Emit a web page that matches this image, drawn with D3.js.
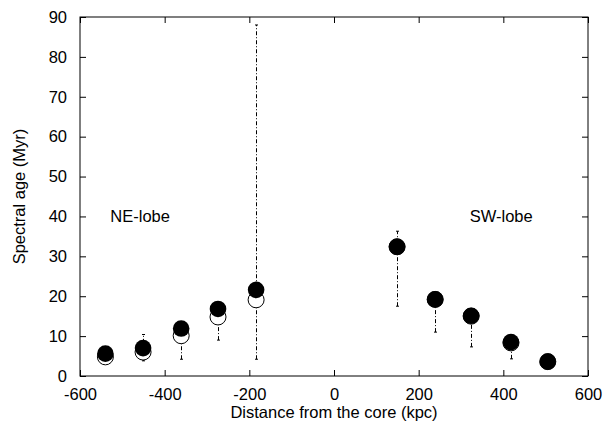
<!DOCTYPE html>
<html><head><meta charset="utf-8">
<script src="https://cdn.jsdelivr.net/npm/d3@7"></script>
<style>body{margin:0;background:#fff}svg{display:block}text{font-family:"Liberation Sans",Arial,sans-serif;fill:#000}</style>
</head><body><svg id="c" width="613" height="426"></svg>
<script>
// Distances (kpc)
const distances = [-540, -451, -361, -274, -184, 149, 239, 324, 418, 505];
// Filled-circle spectral ages (Myr)
const agesFilled = [5.6, 7.0, 11.9, 16.8, 21.6, 32.4, 19.2, 15.1, 8.5, 3.6];
// Open-circle spectral ages (Myr)
const agesOpen = [4.8, 6.0, 10.1, 14.8, 19.1, 32.4, 19.2, 15.0, 8.3, 3.6];
// Error-bar low / high (Myr)
const errLow = [4.7, 3.8, 4.2, 9.0, 4.2, 17.5, 11.0, 7.3, 4.3, 3.4];
const errHigh = [5.6, 10.4, 12.0, 17.0, 88.0, 36.3, 19.3, 15.2, 8.5, 3.8];
const xTicks = [-600, -400, -200, 0, 200, 400, 600];
const yTicks = [0, 10, 20, 30, 40, 50, 60, 70, 80, 90];
const annotations = [{label: "NE-lobe", x: -458, y: 40}, {label: "SW-lobe", x: 395, y: 40}];

const svg = d3.select("#c");
const L = 80, R = 588, T = 17, B = 376;
const x = d3.scaleLinear().domain([-600, 600]).range([L, R]);
const y = d3.scaleLinear().domain([0, 90]).range([B, T]);
const fs = 16.5;
const fmt = d => String(d);

// axes with inward ticks on all sides
const tl = 6;
svg.append("g").attr("transform", `translate(0,${B})`)
  .call(d3.axisBottom(x).tickValues(xTicks).tickSize(-tl).tickPadding(12).tickFormat(fmt))
  .call(g => { g.select(".domain").remove(); g.selectAll("text").attr("font-size", fs).attr("font-family", null); });
svg.append("g").attr("transform", `translate(0,${T})`)
  .call(d3.axisTop(x).tickValues(xTicks).tickSize(-tl).tickFormat(""))
  .call(g => g.select(".domain").remove());
svg.append("g").attr("transform", `translate(${L},0)`)
  .call(d3.axisLeft(y).tickValues(yTicks).tickSize(-tl).tickPadding(13).tickFormat(fmt))
  .call(g => { g.select(".domain").remove(); g.selectAll("text").attr("font-size", fs).attr("font-family", null); });
svg.append("g").attr("transform", `translate(${R},0)`)
  .call(d3.axisRight(y).tickValues(yTicks).tickSize(-tl).tickFormat(""))
  .call(g => g.select(".domain").remove());
svg.selectAll(".tick line").attr("stroke", "#000");

svg.append("rect").attr("x", L).attr("y", T).attr("width", R - L).attr("height", B - T)
  .attr("fill", "none").attr("stroke", "#000").attr("stroke-width", 1);

// error bars
const eb = svg.append("g").attr("stroke", "#000").attr("stroke-width", 1);
distances.forEach((d, i) => {
  const cx = Math.round(x(d)) + 0.5;
  eb.append("line").attr("x1", cx).attr("x2", cx).attr("y1", y(errLow[i])).attr("y2", y(errHigh[i]))
    .attr("stroke-dasharray", "4,2,1,2");
  [errLow[i], errHigh[i]].forEach(v => {
    eb.append("line").attr("x1", cx - 1.5).attr("x2", cx + 1.5).attr("y1", y(v)).attr("y2", y(v));
  });
});

// open circles
svg.append("g").selectAll("circle").data(distances).join("circle")
  .attr("cx", d => x(d)).attr("cy", (d, i) => y(agesOpen[i])).attr("r", 8)
  .attr("fill", "#fff").attr("stroke", "#000").attr("stroke-width", 1);
// filled circles
svg.append("g").selectAll("circle").data(distances).join("circle")
  .attr("cx", d => x(d)).attr("cy", (d, i) => y(agesFilled[i])).attr("r", 8.3)
  .attr("fill", "#000");

// annotations
svg.selectAll(".ann").data(annotations).join("text")
  .attr("x", d => x(d.x)).attr("y", d => y(d.y)).attr("dy", "0.35em")
  .attr("text-anchor", "middle").attr("font-size", fs).text(d => d.label);

// axis titles
svg.append("text").attr("x", (L + R) / 2).attr("y", 418).attr("text-anchor", "middle")
  .attr("font-size", fs).text("Distance from the core (kpc)");
svg.append("text").attr("transform", `translate(25,${(T + B) / 2}) rotate(-90)`)
  .attr("text-anchor", "middle").attr("font-size", fs).text("Spectral age (Myr)");
</script></body></html>
